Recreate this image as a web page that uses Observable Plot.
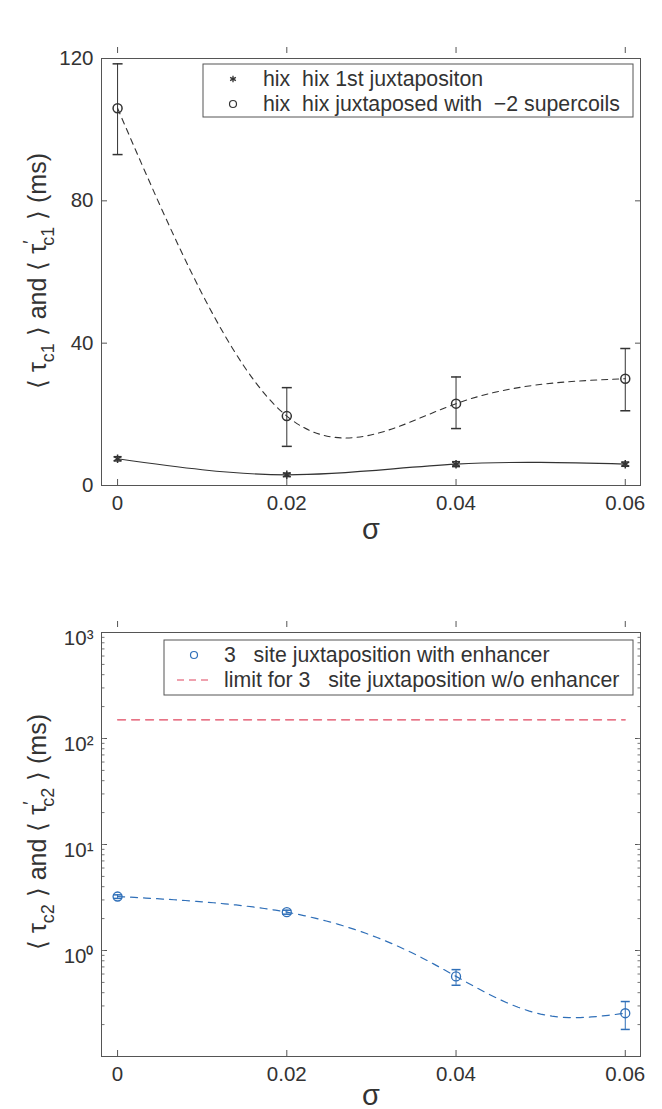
<!DOCTYPE html>
<html><head><meta charset="utf-8">
<script src="https://cdn.jsdelivr.net/npm/d3@7"></script>
<script src="https://cdn.jsdelivr.net/npm/@observablehq/plot@0.6"></script>
<style>
body{margin:0;background:#fff;font-family:"Liberation Sans",Arial,sans-serif;}
#wrap{position:relative;width:662px;height:1109px;overflow:hidden;}
.panel{position:absolute;left:0;}
.tag{position:absolute;left:14px;font-weight:bold;font-size:23px;color:#222;}
</style></head><body>
<div id="wrap"><div class="tag" style="top:8px">A</div><div class="tag" style="top:593px">B</div></div>
<script>
// ---- data ----
const sigma = [0, 0.02, 0.04, 0.06];
const firstJux = [7.5, 3.0, 6.0, 6.0];
const firstLo = [6.9, 2.5, 5.3, 5.4];
const firstHi = [8.1, 3.5, 6.7, 6.6];
const supercoil = [106, 19.5, 23, 30];
const supercoilLo = [93, 11, 16, 21];
const supercoilHi = [118.5, 27.5, 30.5, 38.5];
const enhancer = [3.23, 2.3, 0.57, 0.256];
const enhancerLo = [3.1, 2.2, 0.47, 0.18];
const enhancerHi = [3.35, 2.4, 0.66, 0.33];
const limitValue = 150;
const xTicks = [0, 0.02, 0.04, 0.06];
const yTicksA = [0, 40, 80, 120];
const yTicksB = [1, 10, 100, 1000];
const yTickLabelsB = ["10\u2070", "10\u00B9", "10\u00B2", "10\u00B3"];
const legendA = ["hix  hix 1st juxtapositon", "hix  hix juxtaposed with  \u22122 supercoils"];
const legendB = ["3   site juxtaposition with enhancer", "limit for 3   site juxtaposition w/o enhancer"];

const rows = sigma.map((s, i) => ({
  s, first: firstJux[i], firstLo: firstLo[i], firstHi: firstHi[i],
  sup: supercoil[i], supLo: supercoilLo[i], supHi: supercoilHi[i],
  enh: enhancer[i], enhLo: enhancerLo[i], enhHi: enhancerHi[i], limit: limitValue
}));

const ink = "#333";
const tickInk = "#555";
const blue = "#2f6fb8";
const red = "#e0455e";
const font = "Liberation Sans, Arial, sans-serif";
const capSymbol = {draw(ctx, size) { const r = Math.sqrt(size / Math.PI); ctx.moveTo(-r, 0); ctx.lineTo(r, 0); }};
const xDomain = [-0.0019, 0.0618];
const fmtX = d => String(d);
const T = 6;

function inwardTicks(xt, yt, size, stroke) {
  return [
    Plot.axisX(xt, {anchor: "bottom", tickSize: size, dy: -size, tickFormat: () => "", stroke}),
    Plot.axisX(xt, {anchor: "top", tickSize: size, dy: -size, tickFormat: () => "", stroke}),
    Plot.axisY(yt, {anchor: "left", tickSize: size, dx: size, tickFormat: () => "", stroke}),
    Plot.axisY(yt, {anchor: "right", tickSize: size, dx: -size, tickFormat: () => "", stroke})
  ];
}

// ---- Panel A ----
const plotA = Plot.plot({
  width: 662, height: 560,
  marginLeft: 101, marginRight: 22, marginTop: 58, marginBottom: 75,
  x: {domain: xDomain, label: null},
  y: {domain: [0, 120], label: null},
  style: {fontFamily: font, color: ink, background: "white", overflow: "visible"},
  marks: [
    Plot.axisX(xTicks, {tickSize: 0, tickPadding: 10, tickFormat: fmtX, fontSize: 20.5, fill: ink}),
    Plot.axisY(yTicksA, {tickSize: 0, tickPadding: 8, tickFormat: d => String(d), fontSize: 20.5, fill: ink}),
    ...inwardTicks(xTicks, yTicksA, T, tickInk),
    Plot.frame({stroke: "#555"}),
    Plot.line(rows, {x: "s", y: "sup", curve: "natural", stroke: ink, strokeWidth: 1.1, strokeDasharray: "6,5"}),
    Plot.line(rows, {x: "s", y: "first", curve: "natural", stroke: ink, strokeWidth: 1.1}),
    Plot.ruleX(rows, {x: "s", y1: "supLo", y2: "supHi", stroke: ink}),
    Plot.dot(rows, {x: "s", y: "supLo", symbol: capSymbol, r: 5, stroke: ink}),
    Plot.dot(rows, {x: "s", y: "supHi", symbol: capSymbol, r: 5, stroke: ink}),
    Plot.dot(rows, {x: "s", y: "sup", r: 4.5, stroke: ink, fill: "none"}),
    Plot.ruleX(rows, {x: "s", y1: "firstLo", y2: "firstHi", stroke: ink}),
    Plot.dot(rows, {x: "s", y: "firstLo", symbol: capSymbol, r: 4, stroke: ink}),
    Plot.dot(rows, {x: "s", y: "firstHi", symbol: capSymbol, r: 4, stroke: ink}),
    Plot.dot(rows, {x: "s", y: "first", symbol: "asterisk", r: 4, stroke: ink, strokeWidth: 1.5}),
    Plot.text(["\u03C3"], {frameAnchor: "bottom", dy: 53, fontSize: 29, fill: ink})
  ]
});

// ---- Panel B ----
// natural spline evaluated in data (linear) space, drawn through the log y scale
const yB = d3.scaleLog().domain([0.1, 1000]).range([549 - 53, 72]);
function curveLinearSpace(scale) {
  return function(context) {
    let last = null;
    const proxy = {
      moveTo(x, v) { context.moveTo(x, scale(v)); last = [x, v]; },
      lineTo(x, v) { context.lineTo(x, scale(v)); last = [x, v]; },
      bezierCurveTo(x1, v1, x2, v2, x, v) {
        const [x0, v0] = last;
        for (let k = 1; k <= 30; ++k) {
          const t = k / 30, u = 1 - t;
          const bx = u*u*u*x0 + 3*u*u*t*x1 + 3*u*t*t*x2 + t*t*t*x;
          const bv = u*u*u*v0 + 3*u*u*t*v1 + 3*u*t*t*v2 + t*t*t*v;
          context.lineTo(bx, scale(bv));
        }
        last = [x, v];
      },
      closePath() { context.closePath(); }
    };
    const inner = d3.curveNatural(proxy);
    return {
      areaStart() { inner.areaStart(); }, areaEnd() { inner.areaEnd(); },
      lineStart() { inner.lineStart(); }, lineEnd() { inner.lineEnd(); },
      point(x, y) { inner.point(x, scale.invert(y)); }
    };
  };
}

const plotB = Plot.plot({
  width: 662, height: 549,
  marginLeft: 101, marginRight: 22, marginTop: 72, marginBottom: 53,
  x: {domain: xDomain, label: null},
  y: {type: "log", domain: [0.1, 1000], label: null},
  style: {fontFamily: font, color: ink, background: "white", overflow: "visible"},
  marks: [
    Plot.axisX(xTicks, {tickSize: 0, tickPadding: 10, tickFormat: fmtX, fontSize: 20.5, fill: ink}),
    Plot.axisY(yTicksB, {tickSize: 0, tickPadding: 8, dy: 6, tickFormat: d => yTickLabelsB[yTicksB.indexOf(d)], fontSize: 20.5, fill: ink}),
    ...inwardTicks(xTicks, yTicksB, T, tickInk),
    Plot.axisY({anchor: "left", ticks: 40, tickSize: 3.5, dx: 3.5, tickFormat: () => "", stroke: "#777"}),
    Plot.axisY({anchor: "right", ticks: 40, tickSize: 3.5, dx: -3.5, tickFormat: () => "", stroke: "#777"}),
    Plot.frame({stroke: "#555"}),
    Plot.line(rows, {x: "s", y: "limit", stroke: red, strokeWidth: 1.2, strokeDasharray: "8,6"}),
    Plot.line(rows, {x: "s", y: "enh", curve: curveLinearSpace(yB), stroke: blue, strokeWidth: 1.2, strokeDasharray: "7,6"}),
    Plot.ruleX(rows, {x: "s", y1: "enhLo", y2: "enhHi", stroke: blue}),
    Plot.dot(rows, {x: "s", y: "enhLo", symbol: capSymbol, r: 4.5, stroke: blue}),
    Plot.dot(rows, {x: "s", y: "enhHi", symbol: capSymbol, r: 4.5, stroke: blue}),
    Plot.dot(rows, {x: "s", y: "enh", r: 4.5, stroke: blue, fill: "none", strokeWidth: 1.3}),
    Plot.text(["\u03C3"], {frameAnchor: "bottom", dy: 48, fontSize: 29, fill: ink})
  ]
});

function place(svg, top) {
  const d = document.createElement("div");
  d.className = "panel"; d.style.top = top + "px";
  d.appendChild(svg);
  document.getElementById("wrap").appendChild(d);
}
place(plotA, 0);
place(plotB, 560);

// ---- y-axis labels with sub/superscripts ----
function yLabel(svg, sub, cx, cy, size) {
  const t = d3.select(svg).append("text")
    .attr("transform", `translate(${cx},${cy}) rotate(-90)`)
    .attr("text-anchor", "middle").attr("font-size", size)
    .attr("font-family", font).attr("fill", ink).style("white-space", "pre");
  const s = size * 0.72;
  t.append("tspan").text("\u27E8 \u03C4");
  t.append("tspan").attr("font-size", s).attr("dy", size * 0.3).text(sub);
  t.append("tspan").attr("dy", -size * 0.3).text(" \u27E9 and \u27E8 \u03C4");
  t.append("tspan").attr("font-size", s).attr("dy", -size * 0.42).text("\u2032");
  t.append("tspan").attr("font-size", s).attr("dx", -s * 0.3).attr("dy", size * 0.72).text(sub);
  t.append("tspan").attr("dy", -size * 0.3).text(" \u27E9 (ms)");
}
yLabel(plotA, "c1", 46, 271, 25);
yLabel(plotB, "c2", 46, 272, 25);

// ---- legends ----
function legend(svg, box, items) {
  const g = d3.select(svg).append("g").attr("text-anchor", "start");
  g.append("rect").attr("x", box.x).attr("y", box.y).attr("width", box.w).attr("height", box.h)
    .attr("fill", "white").attr("stroke", "#555");
  items.forEach((it, i) => {
    const y = box.y + 15 + i * 25;
    const mx = box.x + 30;
    if (it.type === "star") {
      g.append("path").attr("d", d3.symbol(d3.symbolAsterisk, 30)()).attr("transform", `translate(${mx},${y})`)
        .attr("stroke", ink).attr("stroke-width", 1.3);
    } else if (it.type === "circle") {
      g.append("circle").attr("cx", mx).attr("cy", y).attr("r", 3.5).attr("fill", "none").attr("stroke", it.color).attr("stroke-width", 1.2);
    } else {
      g.append("line").attr("x1", mx - 17).attr("x2", mx + 17).attr("y1", y).attr("y2", y)
        .attr("stroke", it.color).attr("stroke-width", 1.2).attr("stroke-dasharray", "7,5");
    }
    g.append("text").attr("x", mx + 30).attr("y", y).attr("dy", "0.35em").attr("font-size", 21.3)
      .attr("text-anchor", "start").attr("font-family", font).attr("fill", ink)
      .style("white-space", "pre").text(it.label);
  });
}
legend(plotA, {x: 203, y: 64, w: 430, h: 53}, [
  {type: "star", label: legendA[0]},
  {type: "circle", color: ink, label: legendA[1]}
]);
legend(plotB, {x: 164, y: 80, w: 469, h: 55}, [
  {type: "circle", color: blue, label: legendB[0]},
  {type: "dash", color: red, label: legendB[1]}
]);
</script>
</body></html>
